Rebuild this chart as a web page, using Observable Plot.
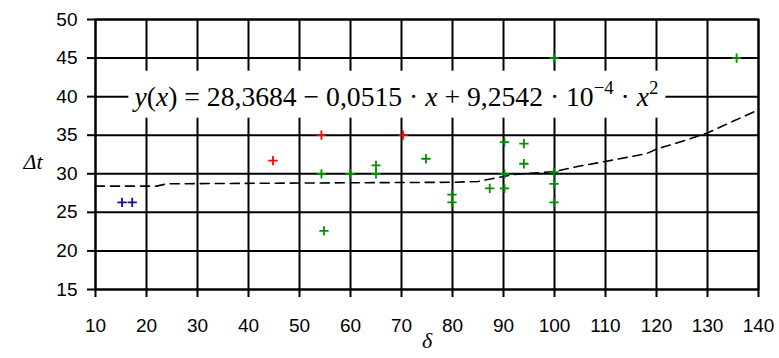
<!DOCTYPE html>
<html><head><meta charset="utf-8">
<script src="https://cdn.jsdelivr.net/npm/d3@7"></script>
<script src="https://cdn.jsdelivr.net/npm/@observablehq/plot@0.6"></script>
<style>body{margin:0;background:#fff}</style>
</head><body><div id="chart"></div>
<script>
// ---- data ----
const xTicks = [10, 20, 30, 40, 50, 60, 70, 80, 90, 100, 110, 120, 130, 140];
const yTicks = [15, 20, 25, 30, 35, 40, 45, 50];

const blueX = [15.2, 17.2];
const blueY = [26.3, 26.3];

const redX = [44.8, 54.3, 70.3];
const redY = [31.7, 35, 35];

const greenX = [54.3, 54.8, 59.9, 65, 65, 74.8, 79.9, 79.9, 87.3, 90.2, 90.2, 90.2, 94, 94, 99.9, 99.9, 99.9, 99.9, 135.7];
const greenY = [30, 22.6, 30, 31.1, 30, 31.95, 27.3, 26.3, 28.1, 28.1, 30, 34.1, 33.9, 31.3, 45, 30.2, 28.7, 26.3, 45];

const trendX = [10, 22, 24, 50, 80, 85, 88, 92, 100, 105, 110, 118, 120, 125, 130, 135, 140];
const trendY = [28.4, 28.4, 28.7, 28.8, 28.9, 29.0, 29.4, 29.9, 30.3, 31.0, 31.6, 32.6, 33.2, 34.2, 35.3, 36.8, 38.3];

const eqX = [69];
const eqY = [40];
const eqText = ["y(x) = 28,3684 − 0,0515 · x + 9,2542 · 10⁻⁴ · x²"];

const xLabel = "δ";
const yLabel = "Δt";

// ---- build ----
const pts = (xs, ys) => xs.map((x, i) => ({x, y: ys[i]}));
const eqData = eqX.map((x, i) => ({x, y: eqY[i], t: eqText[i]}));

const plot = Plot.plot({
  width: 779, height: 358,
  marginTop: 19, marginRight: 21, marginBottom: 69, marginLeft: 95,
  style: {background: "#fff", fontFamily: "'Liberation Sans', Arial, sans-serif", fontSize: "19px", color: "#000"},
  x: {domain: [10, 140]},
  y: {domain: [15, 50]},
  marks: [
    Plot.gridX(xTicks, {stroke: "#000", strokeOpacity: 1, strokeWidth: 2}),
    Plot.gridY(yTicks, {stroke: "#000", strokeOpacity: 1, strokeWidth: 2}),
    Plot.frame({stroke: "#000", strokeWidth: 2}),
    Plot.axisX(xTicks, {tickSize: 8, tickPadding: 21, fontSize: 19, strokeWidth: 2, label: null}),
    Plot.axisY(yTicks, {tickSize: 8, tickPadding: 10, fontSize: 19, strokeWidth: 2, label: null}),
    Plot.text(eqData, {x: "x", y: "y", text: "t", fontFamily: "'Liberation Serif', 'Times New Roman', serif", fontSize: 30, fill: "#000", lineAnchor: "middle"}),
    Plot.line(pts(trendX, trendY), {x: "x", y: "y", stroke: "#000", strokeWidth: 1.6, strokeDasharray: "9,6"}),
    Plot.dot(pts(blueX, blueY), {x: "x", y: "y", symbol: "plus", r: 3.1, stroke: "#10109a", strokeWidth: 1.8}),
    Plot.dot(pts(redX, redY), {x: "x", y: "y", symbol: "plus", r: 3.1, stroke: "#ff0000", strokeWidth: 1.8}),
    Plot.dot(pts(greenX, greenY), {x: "x", y: "y", symbol: "plus", r: 3.1, stroke: "#009000", strokeWidth: 1.8}),
    Plot.text([xLabel], {frameAnchor: "bottom", dy: 58, fontFamily: "'Liberation Serif', serif", fontStyle: "italic", fontSize: 22, fill: "#000"}),
    Plot.text([yLabel], {frameAnchor: "left", dx: -72, dy: 7, fontFamily: "'Liberation Serif', serif", fontStyle: "italic", fontSize: 22, fill: "#000"})
  ]
});
document.getElementById("chart").appendChild(plot);

// ---- style the equation (italics, superscripts) and give it a white box ----
const svgNS = "http://www.w3.org/2000/svg";
const eqEl = Array.from(plot.querySelectorAll("text")).find(t => t.textContent.includes("28,3684"));
function buildEq(fs) {
  const segs = [
    ["y", "i"], ["(", ""], ["x", "i"], [")", ""], [" = 28,3684 − 0,0515 · ", ""], ["x", "i"],
    [" + 9,2542 · 10", ""], ["−4", "s"], [" · ", "b"], ["x", "i"], ["2", "s"]
  ];
  eqEl.setAttribute("font-size", fs);
  while (eqEl.firstChild) eqEl.removeChild(eqEl.firstChild);
  let raised = false;
  for (const [s, k] of segs) {
    const ts = document.createElementNS(svgNS, "tspan");
    ts.textContent = s;
    if (k === "i") ts.setAttribute("font-style", "italic");
    if (k === "s") { ts.setAttribute("font-size", fs * 0.68); ts.setAttribute("dy", -fs * 0.42); raised = true; }
    else if (raised) { ts.setAttribute("dy", fs * 0.42); raised = false; }
    eqEl.appendChild(ts);
  }
}
if (eqEl) {
  buildEq(30);
  const w0 = eqEl.getBBox().width;
  buildEq(30 * 527 / w0);
  const bb = eqEl.getBBox();
  const rect = document.createElementNS(svgNS, "rect");
  const cy = bb.y + bb.height / 2;
  rect.setAttribute("x", bb.x - 3);
  rect.setAttribute("width", bb.width + 10);
  rect.setAttribute("y", cy - 23.5);
  rect.setAttribute("height", 47);
  rect.setAttribute("fill", "#fff");
  if (eqEl.getAttribute("transform")) rect.setAttribute("transform", eqEl.getAttribute("transform"));
  eqEl.parentNode.insertBefore(rect, eqEl);
}
</script>
</body></html>
